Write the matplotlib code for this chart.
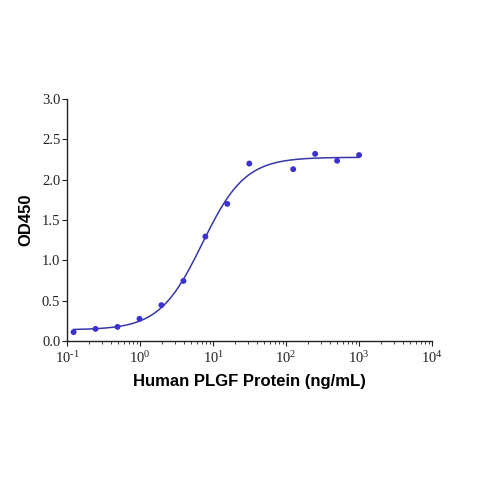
import numpy as np
import matplotlib
matplotlib.use("Agg")
import matplotlib.pyplot as plt
from matplotlib.ticker import LogLocator, NullFormatter, FixedLocator

plt.rcParams["mathtext.fontset"] = "custom"
plt.rcParams["mathtext.rm"] = "Liberation Serif"
plt.rcParams["mathtext.it"] = "Liberation Serif:italic"
plt.rcParams["mathtext.bf"] = "Liberation Serif:bold"

# Data
conc = [0.122, 0.244, 0.488, 0.977, 1.95, 3.91, 7.81, 15.6, 31.25, 125, 250, 500, 1000]
od450 = [0.11, 0.15, 0.175, 0.275, 0.445, 0.745, 1.295, 1.70, 2.20, 2.13, 2.32, 2.235, 2.305]
y_ticks = [0.0, 0.5, 1.0, 1.5, 2.0, 2.5, 3.0]
x_ticks = [0.1, 1, 10, 100, 1000, 10000]
x_tick_labels = ["10$^{\\text{-1}}$", "10$^{\\mathrm{0}}$", "10$^{\\mathrm{1}}$",
                 "10$^{\\mathrm{2}}$", "10$^{\\mathrm{3}}$", "10$^{\\mathrm{4}}$"]
x_label = "Human PLGF Protein (ng/mL)"
y_label = "OD450"

# 4PL fit: grid search on EC50/Hill, linear solve for bottom/top
x = np.array(conc)
y = np.array(od450)
best = None
for lec in np.linspace(0.3, 1.3, 201):
    for h in np.linspace(0.8, 2.5, 171):
        f = 1.0 / (1.0 + (10**lec / x) ** h)
        A = np.vstack([1 - f, f]).T
        coef, *_ = np.linalg.lstsq(A, y, rcond=None)
        r = np.sum((A @ coef - y) ** 2)
        if best is None or r < best[0]:
            best = (r, lec, h, coef)
_, lec, h, (bottom, top) = best
xf = np.logspace(np.log10(x.min()), np.log10(x.max()), 400)
yf = bottom + (top - bottom) / (1.0 + (10**lec / xf) ** h)

fig = plt.figure(figsize=(4.79, 4.79), dpi=100)
ax = fig.add_axes([0.1405, 0.2881, 0.9019 - 0.1405, 0.7933 - 0.2881])
ax.plot(xf, yf, color="#3737a8", lw=1.1, zorder=2)
ax.scatter(x, y, s=18, color="#3b32d0", edgecolors="none", zorder=3)

ax.set_xscale("log")
ax.set_xlim(0.1, 10000)
ax.set_ylim(0, 3.0)
ax.xaxis.set_major_locator(FixedLocator(x_ticks))
ax.set_xticklabels(x_tick_labels)
ax.xaxis.set_minor_locator(LogLocator(base=10, subs=np.arange(2, 10)))
ax.xaxis.set_minor_formatter(NullFormatter())
ax.set_yticks(y_ticks)
ax.set_yticklabels([f"{v:.1f}" for v in y_ticks])

for s in ["top", "right"]:
    ax.spines[s].set_visible(False)
for s in ["left", "bottom"]:
    ax.spines[s].set_linewidth(1.0)
    ax.spines[s].set_color("#222222")

ax.tick_params(axis="both", which="major", direction="out", length=3.5, width=0.8,
               labelsize=10.5, pad=1.5, colors="#222222")
ax.tick_params(axis="x", which="major", pad=3)
ax.tick_params(axis="x", which="minor", direction="out", length=2, width=0.6, colors="#222222")
for lab in ax.get_xticklabels() + ax.get_yticklabels():
    lab.set_family(["Liberation Serif", "DejaVu Serif"])

ax.set_xlabel(x_label, fontsize=12, fontweight="bold", family="Liberation Sans", labelpad=6)
ax.set_ylabel(y_label, fontsize=12, fontweight="bold", family="Liberation Sans", labelpad=6)

fig.savefig("out.png", dpi=100)
